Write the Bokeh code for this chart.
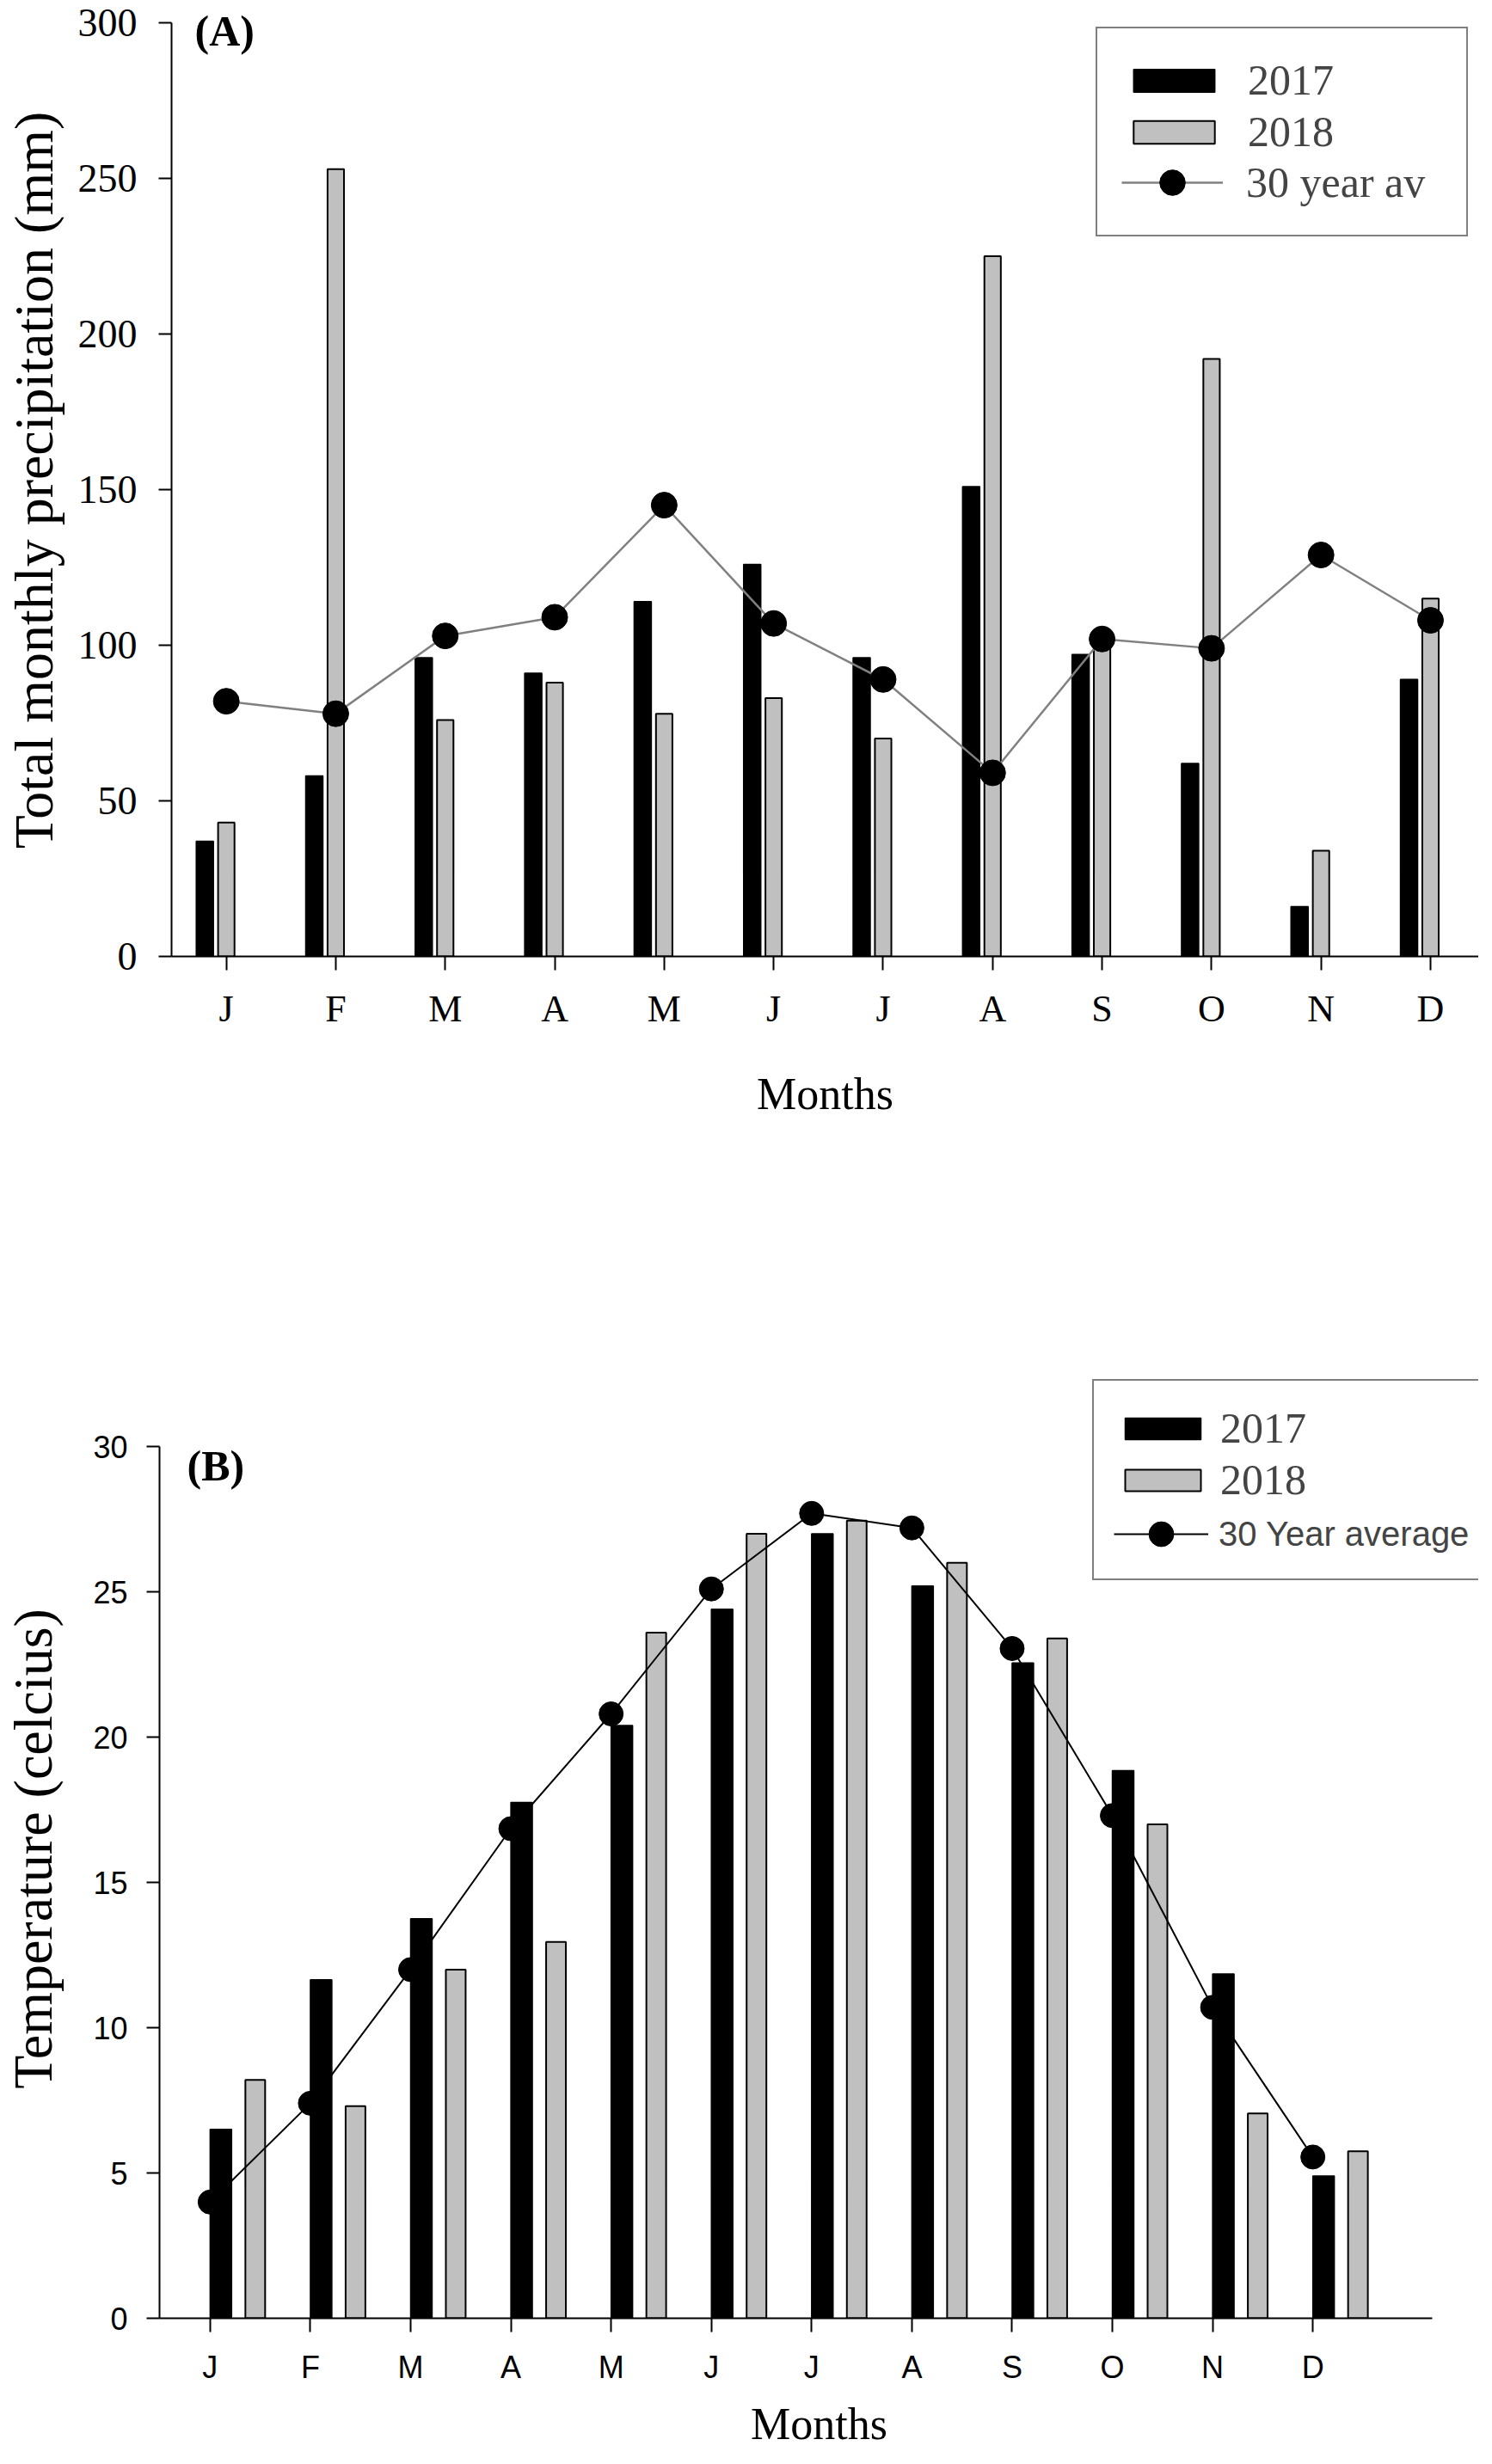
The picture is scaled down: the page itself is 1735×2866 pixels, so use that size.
from bokeh.plotting import figure
from bokeh.models import Range1d, FixedTicker, Legend, LegendItem, Label, ColumnDataSource
from bokeh.transform import dodge
from bokeh.core.properties import value
from bokeh.embed import file_html
from bokeh.resources import INLINE

# ---------------- data ----------------
months = ["J", "F", "M", "A", "M", "J", "J", "A", "S", "O", "N", "D"]
month_idx = list(range(12))

precip_2017 = [37, 58, 96, 91, 114, 126, 96, 151, 97, 62, 16, 89]
precip_2018 = [43, 253, 76, 88, 78, 83, 70, 225, 101, 192, 34, 115]
precip_30yr = [82, 78, 103, 109, 145, 107, 89, 59, 102, 99, 129, 108]

temp_2017 = [6.5, 11.65, 13.75, 17.75, 20.4, 24.4, 27.0, 25.2, 22.55, 18.85, 11.85, 4.9]
temp_2018 = [8.2, 7.3, 12.0, 12.95, 23.6, 27.0, 27.45, 26.0, 23.4, 17.0, 7.05, 5.75]
temp_30yr = [4.0, 7.4, 12.0, 16.85, 20.8, 25.1, 27.7, 27.2, 23.05, 17.3, 10.7, 5.55]

precip_ticks = [0, 50, 100, 150, 200, 250, 300]
temp_ticks = [0, 5, 10, 15, 20, 25, 30]

SERIF = "Liberation Serif"
SANS = "Liberation Sans"
GRAY = "#c0c0c0"


def style_axes(p, font, ysize, xsize, ystand, xstand, ticks_y):
    p.xgrid.visible = False
    p.ygrid.visible = False
    p.outline_line_color = None
    p.xaxis.ticker = FixedTicker(ticks=month_idx)
    p.xaxis.major_label_overrides = {i: m for i, m in enumerate(months)}
    p.yaxis.ticker = FixedTicker(ticks=ticks_y)
    for ax in (p.xaxis, p.yaxis):
        ax.axis_line_width = 2
        ax.axis_line_color = "black"
        ax.major_tick_line_width = 2
        ax.major_tick_line_color = "black"
        ax.major_tick_in = 0
        ax.minor_tick_out = 0
        ax.minor_tick_in = 0
        ax.major_label_text_font = font
        ax.major_label_text_color = "black"
        ax.axis_label_text_font = SERIF
        ax.axis_label_text_font_style = "normal"
        ax.axis_label_text_color = "black"
    p.xaxis.axis_label_text_font_size = "52px"
    p.yaxis.axis_label_text_font_size = "64px"
    p.yaxis.major_tick_out = 15
    p.xaxis.major_tick_out = 16
    p.yaxis.major_label_text_font_size = ysize
    p.xaxis.major_label_text_font_size = xsize
    p.yaxis.major_label_standoff = ystand
    p.xaxis.major_label_standoff = xstand


def add_label(p, text, x, y, font, size, align="left", style="bold"):
    p.add_layout(Label(x=x, y=y, x_units="screen", y_units="screen", text=text,
                       text_font=font, text_font_size=size, text_font_style=style,
                       text_align=align, text_baseline="middle", text_color="black"))


# ---------------- panel A ----------------
# frame extends a little above the 300 tick; the y axis is bounded to 0-300
srcA = ColumnDataSource(dict(x=month_idx, a=precip_2017, b=precip_2018, c=precip_30yr))
pA = figure(width=1719, height=1400, x_range=Range1d(-0.5, 11.44), y_range=Range1d(0, 306.08),
            output_backend="svg", toolbar_location=None,
            min_border_left=195, min_border_right=0, min_border_top=4, min_border_bottom=288)
style_axes(pA, SERIF, "46px", "44px", 25, 20, precip_ticks)
pA.yaxis.bounds = (0, 300)
pA.yaxis.axis_label = "Total monthly precipitation (mm)"
pA.yaxis.axis_label_standoff = 13
pA.xaxis.axis_label = "Months"
pA.xaxis.axis_label_standoff = 43

bA17 = pA.vbar(x=dodge("x", -0.196), top="a", width=0.157, source=srcA,
               fill_color="black", line_color="black", line_width=1.5)
bA18 = pA.vbar(x="x", top="b", width=0.15, source=srcA,
               fill_color=GRAY, line_color="black", line_width=2)
lA = pA.line("x", "c", source=srcA, line_color="#808080", line_width=2.5)
sA = pA.scatter("x", "c", source=srcA, size=30, fill_color="black", line_color="black")

legA1 = Legend(items=[LegendItem(label=value("2017"), renderers=[bA17]),
                      LegendItem(label=value("2018"), renderers=[bA18]),
                      LegendItem(label=value(""), renderers=[])],
               location=(1075, 837), padding=30, spacing=0, margin=0,
               glyph_width=118, glyph_height=33, label_height=60, label_width=224,
               label_standoff=27, label_text_font=SERIF, label_text_font_size="50px",
               border_line_color="black", border_line_width=2,
               background_fill_color="white", background_fill_alpha=1.0)
pA.add_layout(legA1)
legA2 = Legend(items=[LegendItem(label=value("30 year av"), renderers=[lA, sA])],
               location=(1105, 863), padding=0, spacing=0, margin=0,
               glyph_width=118, glyph_height=74, label_height=74,
               label_standoff=27, label_text_font=SERIF, label_text_font_size="50px",
               border_line_alpha=0, background_fill_alpha=0)
pA.add_layout(legA2)

add_label(pA, "(A)", 27, 1077, SERIF, "50px")

# ---------------- panel B ----------------
# frame is extended up and right so the legend fits inside; axes are bounded
srcB = ColumnDataSource(dict(x=month_idx, a=temp_2017, b=temp_2018, c=temp_30yr))
pB = figure(width=1719, height=1450, x_range=Range1d(-0.505, 12.654), y_range=Range1d(0, 32.31),
            output_backend="svg", toolbar_location=None,
            min_border_left=182, min_border_right=0, min_border_top=204, min_border_bottom=154)
style_axes(pB, SANS, "36px", "36px", 22, 20, temp_ticks)
pB.xaxis.bounds = (-0.505, 12.19)
pB.yaxis.bounds = (0, 30)
pB.yaxis.axis_label = "Temperature (celcius)"
pB.yaxis.axis_label_standoff = 31
pB.xaxis.axis_label = "Months"
pB.xaxis.axis_label_standoff = 14

bB17 = pB.vbar(x=dodge("x", 0.107), top="a", width=0.214, source=srcB,
               fill_color="black", line_color="black", line_width=1.5)
bB18 = pB.vbar(x=dodge("x", 0.45), top="b", width=0.197, source=srcB,
               fill_color=GRAY, line_color="black", line_width=2)
lB = pB.line("x", "c", source=srcB, line_color="black", line_width=2)
sB = pB.scatter("x", "c", source=srcB, size=28, fill_color="black", line_color="black")

legB1 = Legend(items=[LegendItem(label=value("2017"), renderers=[bB17]),
                      LegendItem(label=value("2018"), renderers=[bB18]),
                      LegendItem(label=value(""), renderers=[])],
               location=(1085, 858), padding=25, spacing=0, margin=0,
               glyph_width=110, glyph_height=31, label_height=60, label_width=279,
               label_standoff=12, label_text_font=SERIF, label_text_font_size="50px",
               border_line_color="black", border_line_width=2,
               background_fill_color="white", background_fill_alpha=1.0)
pB.add_layout(legB1)
legB2 = Legend(items=[LegendItem(label=value("30 Year average"), renderers=[lB, sB])],
               location=(1110, 876), padding=0, spacing=0, margin=0,
               glyph_width=110, glyph_height=72, label_height=72,
               label_standoff=12, label_text_font=SANS, label_text_font_size="40px",
               border_line_alpha=0, background_fill_alpha=0)
pB.add_layout(legB2)

add_label(pB, "(B)", 32, 992, SERIF, "50px")

open("out.html", "w").write(file_html([pA, pB], INLINE))
